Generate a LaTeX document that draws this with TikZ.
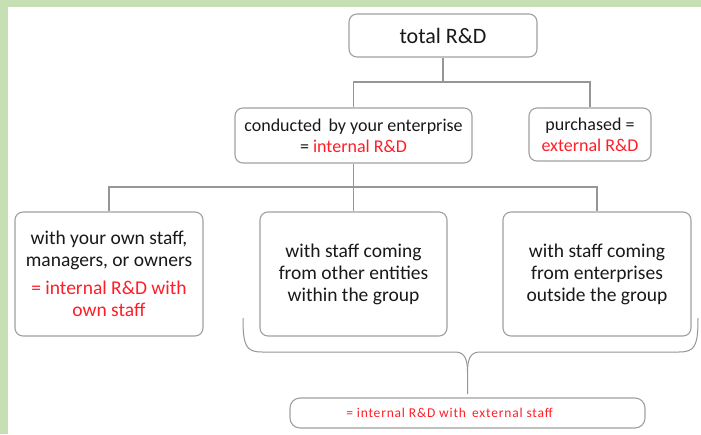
\documentclass[tikz,border=0pt]{standalone}
\usepackage{fontspec}
\setmainfont{Carlito}
\newfontfamily\spacedfont[LetterSpace=6]{Carlito}
\definecolor{bggreen}{RGB}{198,224,180}
\definecolor{boxgray}{RGB}{160,160,160}
\definecolor{linegray}{RGB}{150,150,150}
\definecolor{txt}{RGB}{25,25,25}
\definecolor{redtxt}{RGB}{255,30,40}
\tikzset{
  box/.style={draw=boxgray, line width=1.1pt, rounded corners=8pt, fill=white,
    inner sep=0pt, align=center, text=txt},
  conn/.style={draw=linegray, line width=1.2pt},
}
\begin{document}
\begin{tikzpicture}[x=1pt,y=-1pt]
\fill[bggreen] (0,0) rectangle (701,434);
\fill[white] (8,7) rectangle (701,434);
\useasboundingbox (0,0) rectangle (701,434);

\node[box, minimum width=188pt, minimum height=43pt, font=\fontsize{22}{26}\selectfont] (total) at (443,35.5) {total R\&D};
\node[box, minimum width=237pt, minimum height=55pt, font=\fontsize{18}{21}\selectfont] (cond) at (353.5,135.5)
  {conducted\, by your enterprise\\= \textcolor{redtxt}{internal R\&D}};
\node[box, minimum width=122pt, minimum height=53pt, font=\fontsize{18}{21}\selectfont] (purch) at (590,134.5)
  {purchased =\\\textcolor{redtxt}{external R\&D}};

\node[box, minimum width=188pt, minimum height=124pt, font=\fontsize{19.5}{22}\selectfont] (b1) at (109,274)
  {with your own staff,\\managers, or owners\\[6pt]\textcolor{redtxt}{= internal R\&D with}\\\textcolor{redtxt}{own staff}};
\node[box, minimum width=187pt, minimum height=124pt, font=\fontsize{19.5}{22}\selectfont] (b2) at (353.5,274)
  {with staff coming\\from other entities\\within the group};
\node[box, minimum width=188pt, minimum height=124pt, font=\fontsize{19.5}{22}\selectfont] (b3) at (597,274)
  {with staff coming\\from enterprises\\outside the group};

\node[box, rounded corners=10pt, minimum width=355pt, minimum height=30pt, font=\spacedfont\fontsize{13.5}{15}\selectfont, text=redtxt] (bot) at (467.5,413)
  {\hspace*{-36pt}= internal R\&D with\, external staff};

% connectors
\coordinate (j1) at (443,82);
\draw[conn] (total.south) -- (j1);
\draw[conn] (cond.north) |- (j1) -| (purch.north);
\coordinate (j2) at (353.5,187);
\draw[conn] (cond.south) -- (j2);
\draw[conn] (b1.north) |- (j2) -| (b3.north);
\draw[conn] (j2) -- (b2.north);

% brace
\coordinate (bl) at (243,318);
\coordinate (br) at (698,318);
\coordinate (tip) at (467.5,394);
\draw[conn, line width=1pt] (bl) .. controls (243,346) and (246,352) .. (262,352)
  -- (455,352) .. controls (464,352) and (467.5,358) .. (467.5,372) -- (tip);
\draw[conn, line width=1pt] (br) .. controls (698,346) and (695,352) .. (679,352)
  -- (480,352) .. controls (471,352) and (467.5,358) .. (467.5,372);
\end{tikzpicture}
\end{document}
